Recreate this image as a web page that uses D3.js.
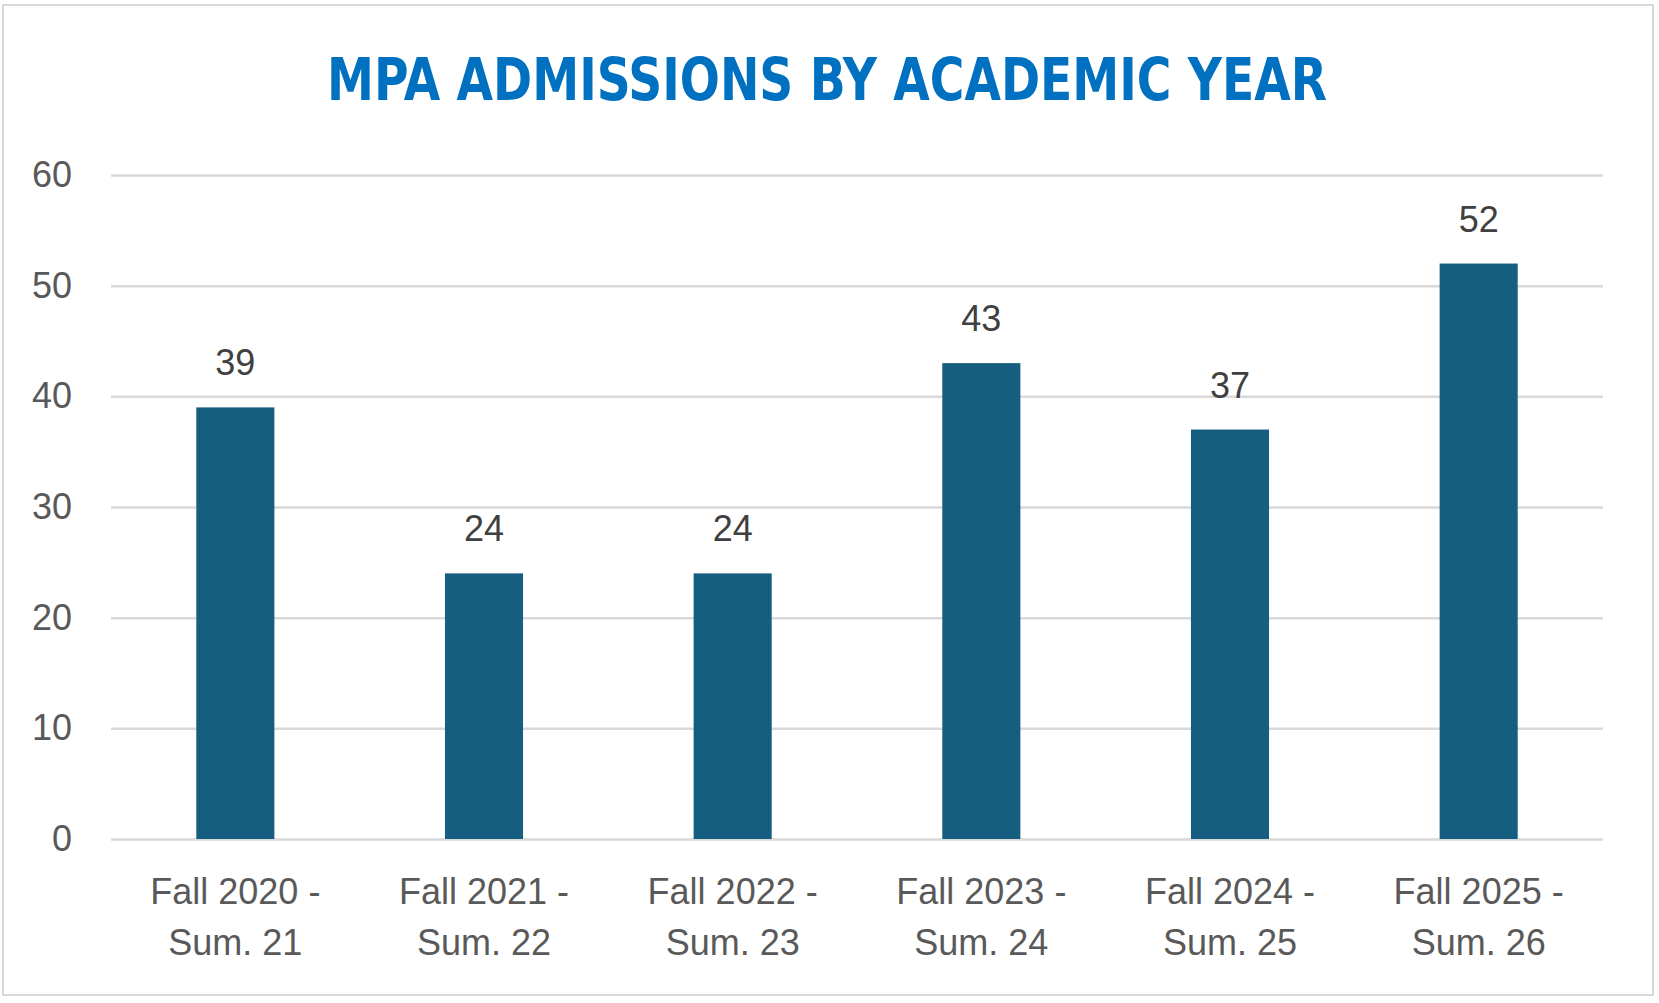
<!DOCTYPE html>
<html>
<head>
<meta charset="utf-8">
<script src="https://cdn.jsdelivr.net/npm/d3@7"></script>
<style>
  html, body { margin: 0; padding: 0; background: #fff; }
  svg { display: block; }
</style>
</head>
<body>
<div id="vis-container"></div>
<script>
// chart data
const years = ["Fall 2020 - Sum. 21", "Fall 2021 - Sum. 22", "Fall 2022 - Sum. 23",
               "Fall 2023 - Sum. 24", "Fall 2024 - Sum. 25", "Fall 2025 - Sum. 26"]
const labelLines = [["Fall 2020 -", "Sum. 21"], ["Fall 2021 -", "Sum. 22"], ["Fall 2022 -", "Sum. 23"],
                    ["Fall 2023 -", "Sum. 24"], ["Fall 2024 -", "Sum. 25"], ["Fall 2025 -", "Sum. 26"]]
const admissions = [39, 24, 24, 43, 37, 52]
const yTicks = [0, 10, 20, 30, 40, 50, 60]
const title = "MPA ADMISSIONS BY ACADEMIC YEAR"

const svgWidth = 1659
const svgHeight = 1003
const margin = { left: 111, right: 56, top: 175, bottom: 164 }
const width = svgWidth - margin.left - margin.right
const height = svgHeight - margin.top - margin.bottom

const svg = d3.select('#vis-container')
    .append('svg')
    .attr('width', svgWidth)
    .attr('height', svgHeight)

// outer chart border
svg.append('rect')
    .attr('x', 3).attr('y', 5)
    .attr('width', 1650).attr('height', 990)
    .attr('fill', '#fff')
    .attr('stroke', '#d9d9d9')
    .attr('stroke-width', 2)

svg.append('text')
    .attr('x', 827).attr('y', 100)
    .attr('text-anchor', 'middle')
    .attr('font-family', 'DejaVu Sans')
    .attr('font-stretch', 'condensed')
    .attr('font-weight', 'bold')
    .attr('font-size', 59)
    .attr('fill', '#0070c0')
    .attr('textLength', 1000)
    .attr('lengthAdjust', 'spacingAndGlyphs')
    .text(title)

const g = svg.append('g')
    .attr('transform', `translate(${margin.left},${margin.top})`)

// scales
const xScale = d3.scaleBand()
    .domain(years)
    .range([0, width])
    .paddingInner(0.686)
    .paddingOuter(0.343)

const yScale = d3.scaleLinear()
    .domain([0, 60])
    .range([height, 0])

// gridlines + y labels
const yAxis = d3.axisLeft(yScale)
    .tickValues(yTicks)
    .tickSize(-width)
    .tickPadding(39)

const yG = g.append('g').call(yAxis)
yG.select('.domain').remove()
yG.selectAll('.tick line')
    .attr('stroke', '#d9d9d9')
    .attr('stroke-width', 2.5)
yG.selectAll('.tick text')
    .attr('font-family', 'Liberation Sans, Arial, sans-serif')
    .attr('font-size', 36)
    .attr('fill', '#595959')

// bars
g.selectAll('rect.bar')
    .data(admissions)
    .join('rect')
    .attr('class', 'bar')
    .attr('x', (d, i) => xScale(years[i]))
    .attr('y', d => yScale(d))
    .attr('width', xScale.bandwidth())
    .attr('height', d => height - yScale(d))
    .attr('fill', '#165e80')

// value labels
g.selectAll('text.value')
    .data(admissions)
    .join('text')
    .attr('class', 'value')
    .attr('x', (d, i) => xScale(years[i]) + xScale.bandwidth() / 2)
    .attr('y', d => yScale(d) - 32)
    .attr('text-anchor', 'middle')
    .attr('font-family', 'Liberation Sans, Arial, sans-serif')
    .attr('font-size', 36)
    .attr('fill', '#404040')
    .text(d => d)

// x labels (two lines)
const xLab = g.selectAll('text.xlab')
    .data(labelLines)
    .join('text')
    .attr('class', 'xlab')
    .attr('text-anchor', 'middle')
    .attr('font-family', 'Liberation Sans, Arial, sans-serif')
    .attr('font-size', 36)
    .attr('fill', '#595959')

xLab.selectAll('tspan')
    .data((d, i) => d.map(t => ({ t, i })))
    .join('tspan')
    .attr('x', d => xScale(years[d.i]) + xScale.bandwidth() / 2)
    .attr('y', (d, j) => height + 65 + j * 51)
    .text(d => d.t)
</script>
</body>
</html>
